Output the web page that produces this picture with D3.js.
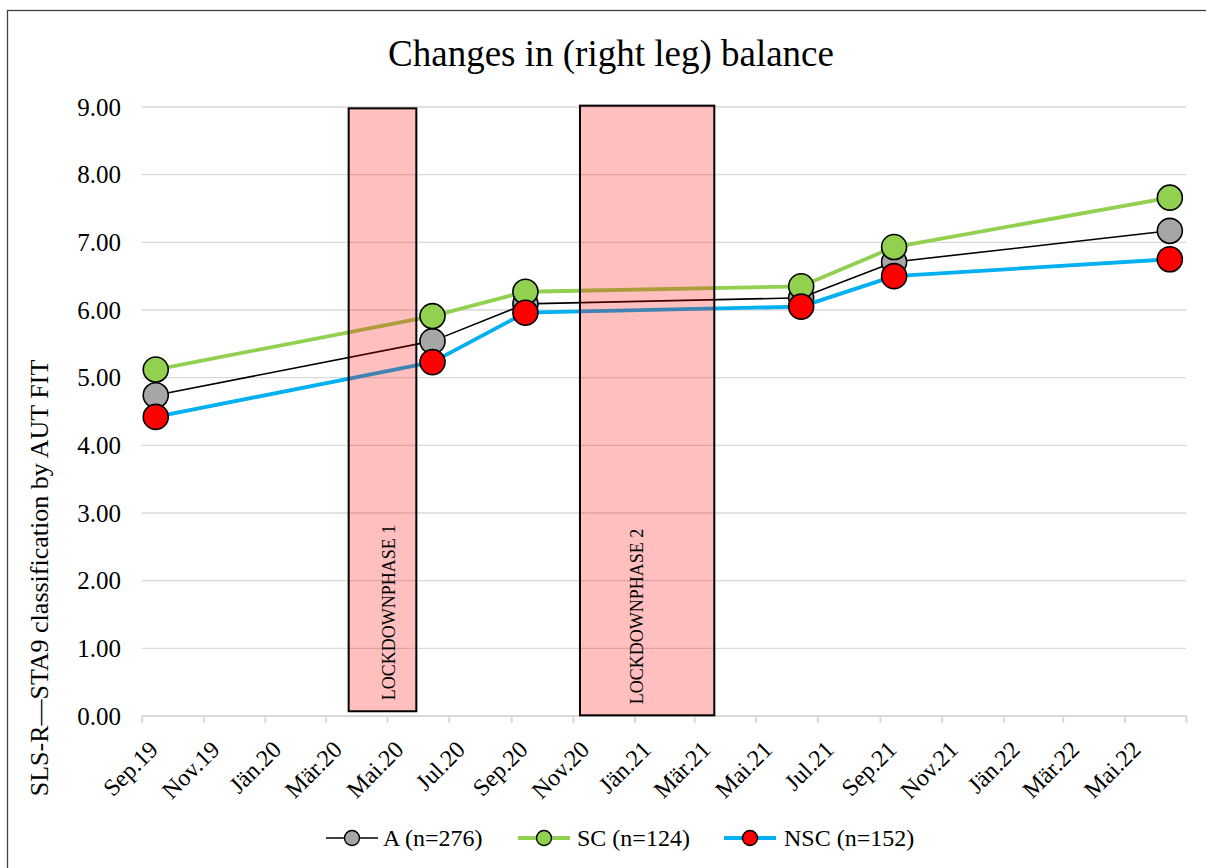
<!DOCTYPE html>
<html>
<head>
<meta charset="utf-8">
<script src="https://cdn.jsdelivr.net/npm/d3@7"></script>
<style>
  html, body { margin: 0; padding: 0; background: #fff; }
  svg { display: block; font-family: "Liberation Serif", "Times New Roman", serif; }
  svg text { font-family: "Liberation Serif", "Times New Roman", serif; }
</style>
</head>
<body>
<svg id="chart" width="1206" height="868"></svg>
<script>
// ---------------- data ----------------
const measureDates = ["2019-09-15", "2020-06-15", "2020-09-15", "2021-06-15", "2021-09-15", "2022-06-15"];
const seriesNames = ["A (n=276)", "SC (n=124)", "NSC (n=152)"];
const valuesA   = [4.74, 5.54, 6.09, 6.18, 6.71, 7.17];
const valuesSC  = [5.12, 5.91, 6.27, 6.35, 6.93, 7.66];
const valuesNSC = [4.42, 5.23, 5.96, 6.05, 6.50, 6.75];

const lockdownLabels = ["LOCKDOWNPHASE 1", "LOCKDOWNPHASE 2"];
const lockdownStart  = ["2020-03-24", "2020-11-08"];
const lockdownEnd    = ["2020-05-30", "2021-03-21"];
const lockdownTop    = [8.98, 9.02];
const lockdownBottom = [0.07, 0.01];

const yTicks = [0, 1, 2, 3, 4, 5, 6, 7, 8, 9];
const monthNames = ["Jän", "Feb", "Mär", "Apr", "Mai", "Jun", "Jul", "Aug", "Sep", "Okt", "Nov", "Dez"];
const axisStart = "2019-09-01";
const axisEnd = "2022-07-01";
const lastLabelled = "2022-05-01";

const titleText = "Changes in (right leg) balance";
const yTitleText = "SLS-R\u2014STA9 classification by AUT FIT";

// ---------------- layout ----------------
const FONT = "Liberation Serif, Times New Roman, serif";
const parse = d3.utcParse("%Y-%m-%d");
const svg = d3.select("#chart");
const plot = { left: 141.6, right: 1186, top: 107, bottom: 716 };

const x = d3.scaleUtc().domain([parse(axisStart), parse(axisEnd)]).range([plot.left, plot.right]);
const y = d3.scaleLinear().domain([0, 9]).range([plot.bottom, plot.top]);

// chart border
svg.append("rect").attr("x", 7.5).attr("y", 10.5).attr("width", 1230).attr("height", 900)
  .attr("fill", "none").attr("stroke", "#404040").attr("stroke-width", 1.3);

// title
svg.append("text").attr("x", 611).attr("y", 66).attr("text-anchor", "middle")
  .attr("font-size", 37).attr("fill", "#000").text(titleText);

// gridlines
svg.append("g").selectAll("line").data(yTicks.filter(d => d > 0)).join("line")
  .attr("x1", plot.left).attr("x2", plot.right)
  .attr("y1", d => y(d)).attr("y2", d => y(d))
  .attr("stroke", "#d9d9d9").attr("stroke-width", 1.3);

// y axis labels
const yAxis = d3.axisLeft(y).tickValues(yTicks).tickFormat(d3.format(".2f")).tickSize(0).tickPadding(0);
const gy = svg.append("g").attr("transform", `translate(121,0)`).call(yAxis)
  .attr("font-family", FONT).attr("font-size", 25);
gy.select(".domain").remove();
gy.selectAll("text").attr("font-size", 25).attr("font-family", FONT).attr("fill", "#000");

// x axis
const tickDates = d3.utcMonth.every(2).range(parse(axisStart), d3.utcDay.offset(parse(axisEnd), 1));
const xAxis = d3.axisBottom(x).tickValues(tickDates).tickSize(7).tickFormat("");
const gx = svg.append("g").attr("transform", `translate(0,${plot.bottom})`).call(xAxis);
gx.select(".domain").attr("stroke", "#d9d9d9").attr("stroke-width", 2).attr("d", `M${plot.left},0H${plot.right}`);
gx.selectAll(".tick line").attr("stroke", "#d9d9d9").attr("stroke-width", 2);

const labelDates = tickDates.filter(d => d <= parse(lastLabelled));
svg.append("g").selectAll("text").data(labelDates).join("text")
  .attr("transform", d => `translate(${x(d) + 12},${plot.bottom + 29}) rotate(-45)`)
  .attr("text-anchor", "end").attr("dy", "0.35em")
  .attr("font-size", 24).attr("font-family", FONT).attr("fill", "#000")
  .text(d => monthNames[d.getUTCMonth()] + "." + String(d.getUTCFullYear()).slice(2));

// y title
svg.append("text")
  .attr("transform", `translate(39,578) rotate(-90)`)
  .attr("text-anchor", "middle").attr("dy", "0.35em")
  .attr("font-size", 26).attr("font-family", FONT).attr("fill", "#000").text(yTitleText);

// series
const series = [
  { name: seriesNames[0], values: valuesA, line: "#000000", width: 1.6, fill: "#a6a6a6" },
  { name: seriesNames[1], values: valuesSC, line: "#92d050", width: 3.8, fill: "#92d050" },
  { name: seriesNames[2], values: valuesNSC, line: "#00b0f0", width: 3.8, fill: "#ff0000" }
];
const dates = measureDates.map(parse);
const lineGen = d3.line().x((d, i) => x(dates[i])).y(d => y(d));

series.forEach(s => {
  const g = svg.append("g");
  g.append("path").attr("d", lineGen(s.values)).attr("fill", "none")
    .attr("stroke", s.line).attr("stroke-width", s.width).attr("stroke-linejoin", "round");
  g.selectAll("circle").data(s.values).join("circle")
    .attr("cx", (d, i) => x(dates[i])).attr("cy", d => y(d)).attr("r", 12.5)
    .attr("fill", s.fill).attr("stroke", "#000").attr("stroke-width", 1.6);
});

// lockdown boxes (semi-transparent overlay)
const labelShift = [6, -10];
lockdownLabels.forEach((lab, i) => {
  const x0 = x(parse(lockdownStart[i])), x1 = x(parse(lockdownEnd[i]));
  const yt = y(lockdownTop[i]), yb = y(lockdownBottom[i]);
  svg.append("rect").attr("x", x0).attr("y", yt).attr("width", x1 - x0).attr("height", yb - yt)
    .attr("fill", "rgba(255,0,0,0.25)").attr("stroke", "#000").attr("stroke-width", 2);
  svg.append("text")
    .attr("transform", `translate(${(x0 + x1) / 2 + labelShift[i]},${yb - 11}) rotate(-90)`)
    .attr("text-anchor", "start").attr("dy", "0.35em")
    .attr("font-size", 18).attr("font-family", FONT).attr("fill", "#000").text(lab);
});

// legend
const legendItems = [
  { lx: 326, tx: 383 },
  { lx: 518, tx: 577 },
  { lx: 724, tx: 784 }
];
const lg = svg.append("g");
const legendY = 838;
series.forEach((s, i) => {
  const item = legendItems[i];
  lg.append("line").attr("x1", item.lx).attr("x2", item.lx + 52).attr("y1", legendY).attr("y2", legendY)
    .attr("stroke", s.line).attr("stroke-width", s.width);
  lg.append("circle").attr("cx", item.lx + 26).attr("cy", legendY).attr("r", 7.5)
    .attr("fill", s.fill).attr("stroke", "#000").attr("stroke-width", 1.4);
  lg.append("text").attr("x", item.tx).attr("y", legendY).attr("dy", "0.35em")
    .attr("font-size", 24).attr("font-family", FONT).attr("fill", "#000").text(s.name);
});
</script>
</body>
</html>
